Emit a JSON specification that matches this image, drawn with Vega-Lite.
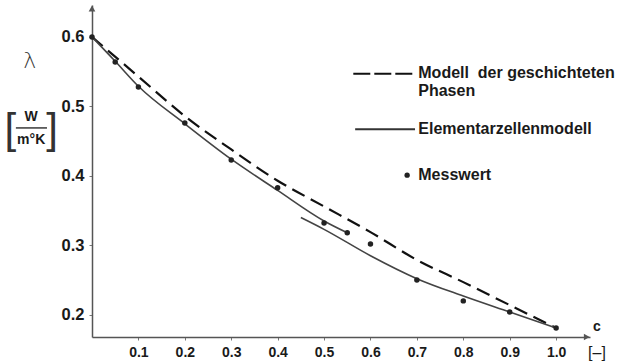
{
  "$schema": "https://vega.github.io/schema/vega-lite/v6.json",
  "width": 498,
  "height": 332,
  "autosize": {"type": "none"},
  "padding": {"left": 92, "top": 5, "right": 29, "bottom": 24},
  "background": "white",
  "config": {
    "view": {"stroke": null},
    "font": "Liberation Sans",
    "axis": {
      "grid": false,
      "domainColor": "#555555",
      "domainWidth": 1.5,
      "tickColor": "#777777",
      "tickSize": 3,
      "labelFont": "Liberation Sans",
      "labelFontWeight": "bold",
      "labelFontSize": 14,
      "labelColor": "#1a1a1a",
      "title": null
    }
  },
  "datasets": {
    "one": [{}],
    "measured": [
      {"c": 0.0, "lambda": 0.600},
      {"c": 0.05, "lambda": 0.564},
      {"c": 0.1, "lambda": 0.528},
      {"c": 0.2, "lambda": 0.476},
      {"c": 0.3, "lambda": 0.423},
      {"c": 0.4, "lambda": 0.383},
      {"c": 0.5, "lambda": 0.332},
      {"c": 0.55, "lambda": 0.318},
      {"c": 0.6, "lambda": 0.302},
      {"c": 0.7, "lambda": 0.250},
      {"c": 0.8, "lambda": 0.220},
      {"c": 0.9, "lambda": 0.204},
      {"c": 1.0, "lambda": 0.181}
    ],
    "layered": [
      {"c": 0.0, "lambda": 0.600},
      {"c": 0.1, "lambda": 0.543},
      {"c": 0.2, "lambda": 0.486},
      {"c": 0.3, "lambda": 0.438},
      {"c": 0.4, "lambda": 0.393},
      {"c": 0.5, "lambda": 0.356},
      {"c": 0.6, "lambda": 0.319},
      {"c": 0.7, "lambda": 0.279},
      {"c": 0.8, "lambda": 0.247},
      {"c": 0.9, "lambda": 0.214},
      {"c": 1.0, "lambda": 0.181}
    ],
    "cells": [
      {"branch": "a", "c": 0.0, "lambda": 0.600},
      {"branch": "a", "c": 0.05, "lambda": 0.565},
      {"branch": "a", "c": 0.1, "lambda": 0.529},
      {"branch": "a", "c": 0.2, "lambda": 0.475},
      {"branch": "a", "c": 0.3, "lambda": 0.424},
      {"branch": "a", "c": 0.4, "lambda": 0.379},
      {"branch": "a", "c": 0.5, "lambda": 0.335},
      {"branch": "a", "c": 0.55, "lambda": 0.318},
      {"branch": "b", "c": 0.45, "lambda": 0.340},
      {"branch": "b", "c": 0.5, "lambda": 0.323},
      {"branch": "b", "c": 0.6, "lambda": 0.285},
      {"branch": "b", "c": 0.7, "lambda": 0.252},
      {"branch": "b", "c": 0.8, "lambda": 0.227},
      {"branch": "b", "c": 0.9, "lambda": 0.204},
      {"branch": "b", "c": 1.0, "lambda": 0.181}
    ]
  },
  "layer": [
    {
      "data": {"name": "layered"},
      "mark": {"type": "line", "color": "#111111", "strokeWidth": 2.2, "strokeDash": [14, 7], "interpolate": "monotone"},
      "encoding": {
        "x": {"field": "c", "type": "quantitative", "scale": {"domain": [0, 1.073], "nice": false, "zero": false},
          "axis": {"values": [0.1, 0.2, 0.3, 0.4, 0.5, 0.6, 0.7, 0.8, 0.9, 1.0], "format": ".1f", "labelPadding": 5, "title": null}},
        "y": {"field": "lambda", "type": "quantitative", "scale": {"domain": [0.168, 0.646], "nice": false, "zero": false},
          "axis": {"values": [0.2, 0.3, 0.4, 0.5, 0.6], "format": ".1f", "labelPadding": 5, "labelFontSize": 16.5, "title": null}}
      }
    },
    {
      "data": {"name": "cells"},
      "mark": {"type": "line", "color": "#444444", "strokeWidth": 1.6, "interpolate": "monotone"},
      "encoding": {
        "x": {"field": "c", "type": "quantitative"},
        "y": {"field": "lambda", "type": "quantitative"},
        "detail": {"field": "branch"}
      }
    },
    {
      "data": {"name": "measured"},
      "mark": {"type": "circle", "color": "#222222", "size": 30, "opacity": 1},
      "encoding": {
        "x": {"field": "c", "type": "quantitative"},
        "y": {"field": "lambda", "type": "quantitative"}
      }
    },
    {
      "data": {"name": "one"},
      "mark": {"type": "point", "shape": "triangle-right", "filled": true, "color": "#555555", "size": 45, "opacity": 1},
      "encoding": {"x": {"datum": 1.066}, "y": {"datum": 0.168}}
    },
    {
      "data": {"name": "one"},
      "mark": {"type": "point", "shape": "triangle-up", "filled": true, "color": "#555555", "size": 45, "opacity": 1},
      "encoding": {"x": {"datum": 0.0}, "y": {"datum": 0.641}}
    },
    {
      "data": {"name": "one"},
      "mark": {"type": "rule", "color": "#111111", "strokeWidth": 2, "strokeDash": [17, 4]},
      "encoding": {"x": {"datum": 0.563}, "x2": {"datum": 0.698}, "y": {"datum": 0.547}}
    },
    {
      "data": {"name": "one"},
      "mark": {"type": "rule", "color": "#333333", "strokeWidth": 2},
      "encoding": {"x": {"datum": 0.567}, "x2": {"datum": 0.696}, "y": {"datum": 0.467}}
    },
    {
      "data": {"name": "one"},
      "mark": {"type": "circle", "color": "#222222", "size": 28, "opacity": 1},
      "encoding": {"x": {"datum": 0.679}, "y": {"datum": 0.401}}
    },
    {
      "data": {"name": "one"},
      "mark": {"type": "text", "align": "left", "baseline": "middle", "font": "Liberation Sans", "fontWeight": "bold", "fontSize": 16, "color": "#1a1a1a"},
      "encoding": {"x": {"datum": 0.703}, "y": {"datum": 0.548}, "text": {"value": "Modell\u00a0 der geschichteten"}}
    },
    {
      "data": {"name": "one"},
      "mark": {"type": "text", "align": "left", "baseline": "middle", "font": "Liberation Sans", "fontWeight": "bold", "fontSize": 16, "color": "#1a1a1a"},
      "encoding": {"x": {"datum": 0.703}, "y": {"datum": 0.522}, "text": {"value": "Phasen"}}
    },
    {
      "data": {"name": "one"},
      "mark": {"type": "text", "align": "left", "baseline": "middle", "font": "Liberation Sans", "fontWeight": "bold", "fontSize": 16, "color": "#1a1a1a"},
      "encoding": {"x": {"datum": 0.703}, "y": {"datum": 0.467}, "text": {"value": "Elementarzellenmodell"}}
    },
    {
      "data": {"name": "one"},
      "mark": {"type": "text", "align": "left", "baseline": "middle", "font": "Liberation Sans", "fontWeight": "bold", "fontSize": 16, "color": "#1a1a1a"},
      "encoding": {"x": {"datum": 0.703}, "y": {"datum": 0.401}, "text": {"value": "Messwert"}}
    },
    {
      "data": {"name": "one"},
      "mark": {"type": "text", "align": "center", "baseline": "middle", "font": "Liberation Sans", "fontWeight": "bold", "fontSize": 14, "color": "#1a1a1a"},
      "encoding": {"x": {"datum": 1.088}, "y": {"datum": 0.183}, "text": {"value": "c"}}
    },
    {
      "data": {"name": "one"},
      "mark": {"type": "text", "align": "center", "baseline": "middle", "font": "Liberation Sans", "fontWeight": "normal", "fontSize": 16, "color": "#1a1a1a"},
      "encoding": {"x": {"datum": 1.088}, "y": {"datum": 0.145}, "text": {"value": "[–]"}}
    },
    {
      "data": {"name": "one"},
      "mark": {"type": "text", "align": "center", "baseline": "middle", "font": "DejaVu Sans", "fontWeight": 300, "fontSize": 22, "color": "#333333"},
      "encoding": {"x": {"datum": -0.134}, "y": {"datum": 0.565}, "text": {"value": "λ"}}
    },
    {
      "data": {"name": "one"},
      "mark": {"type": "text", "align": "center", "baseline": "middle", "font": "Liberation Sans", "fontWeight": "bold", "fontSize": 14, "color": "#1a1a1a"},
      "encoding": {"x": {"datum": -0.131}, "y": {"datum": 0.485}, "text": {"value": "W"}}
    },
    {
      "data": {"name": "one"},
      "mark": {"type": "text", "align": "center", "baseline": "middle", "font": "Liberation Sans", "fontWeight": "bold", "fontSize": 14, "color": "#1a1a1a"},
      "encoding": {"x": {"datum": -0.131}, "y": {"datum": 0.451}, "text": {"value": "m°K"}}
    },
    {
      "data": {"name": "one"},
      "mark": {"type": "rule", "color": "#1a1a1a", "strokeWidth": 1.3},
      "encoding": {"x": {"datum": -0.164}, "x2": {"datum": -0.097}, "y": {"datum": 0.469}}
    },
    {
      "data": {"name": "one"},
      "mark": {"type": "text", "align": "center", "baseline": "middle", "font": "Liberation Sans", "fontWeight": "normal", "fontSize": 42, "color": "#333333"},
      "encoding": {"x": {"datum": -0.176}, "y": {"datum": 0.466}, "text": {"value": "["}}
    },
    {
      "data": {"name": "one"},
      "mark": {"type": "text", "align": "center", "baseline": "middle", "font": "Liberation Sans", "fontWeight": "normal", "fontSize": 42, "color": "#333333"},
      "encoding": {"x": {"datum": -0.086}, "y": {"datum": 0.466}, "text": {"value": "]"}}
    }
  ]
}
